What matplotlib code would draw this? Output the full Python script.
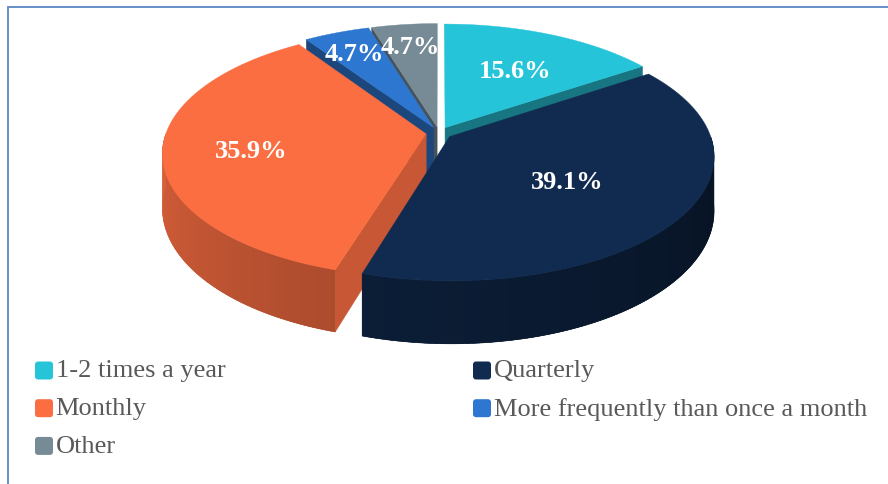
import numpy as np
import matplotlib.pyplot as plt
from matplotlib.patches import Polygon, FancyBboxPatch
from matplotlib.colors import to_rgb

# data
categories = ['1-2 times a year', 'Quarterly', 'Monthly',
              'More frequently than once a month', 'Other']
shares = [15.6, 39.1, 35.9, 4.7, 4.7]
pct_labels = ['15.6%', '39.1%', '35.9%', '4.7%', '4.7%']
colors = ['#26C4D9', '#112B50', '#FA6E42', '#2E77D0', '#778B96']

# geometry of the 3d pie (pixels)
cx, cy = 439, 134
Rx, Ry = 260, 121
H = 53          # thickness
c = 0.153       # perspective
explode = 0.05
label_r = [0.68, 0.58, 0.72, 0.85, 0.85]


def shade(col, f):
    r, g, b = to_rgb(col)
    return (r * f, g * f, b * f)


def proj(u, v, d=0.0):
    p = 1.0 / (1.0 - c * v)
    return cx + Rx * u * p, cy + (Ry * v + H * d) * p


fig = plt.figure(figsize=(8.88, 4.85), dpi=100)
ax = fig.add_axes([0, 0, 1, 1])
ax.set_xlim(0, 888)
ax.set_ylim(485, 0)
ax.axis('off')

total = sum(shares)
bounds = np.concatenate([[0], np.cumsum(shares) / total * 360])

side_faces = []
top_faces = []
label_pos = []
for i, col in enumerate(colors):
    t1, t2 = bounds[i], bounds[i + 1]
    tm = np.radians((t1 + t2) / 2)
    du, dv = explode * np.sin(tm), -explode * np.cos(tm)

    def gp(th, r=1.0):
        a = np.radians(th)
        return du + r * np.sin(a), dv - r * np.cos(a)

    # top face
    ths = np.linspace(t1, t2, max(int((t2 - t1) * 2), 4))
    pts = [proj(du, dv)] + [proj(*gp(t)) for t in ths]
    top_faces.append((pts, col))

    # outer wall (front half only): solid base plus overlapping gradient strips
    lo, hi = max(t1, 90), min(t2, 270)
    if hi > lo:
        edges = np.linspace(lo, hi, max(int(hi - lo), 2))
        top = [proj(*gp(t)) for t in edges]
        bot = [proj(*gp(t), 1) for t in edges[::-1]]
        fmid = 0.42 + ((lo + hi) / 2 - 90) / 180 * 0.45
        vmid = gp((lo + hi) / 2)[1]
        strips = []
        step = edges[1] - edges[0]
        for a in edges[:-1]:
            seg = np.linspace(a, min(a + step * 1.6, hi), 3)
            stop = [proj(*gp(t)) for t in seg]
            sbot = [proj(*gp(t), 1) for t in seg[::-1]]
            f = 0.42 + (a + step / 2 - 90) / 180 * 0.45
            strips.append((stop + sbot, shade(col, f)))
        side_faces.append((vmid, top + bot, shade(col, fmid), strips))

    # radial cut faces that face the viewer
    for th, visible in ((t1, np.sin(np.radians(t1)) < -1e-6),
                        (t2, np.sin(np.radians(t2)) > 1e-6)):
        if visible:
            ur, vr = gp(th)
            quad = [proj(du, dv), proj(ur, vr), proj(ur, vr, 1), proj(du, dv, 1)]
            f = 0.8 if i == 2 else 0.6
            side_faces.append(((dv + vr) / 2, quad, shade(col, f), []))

    label_pos.append(proj(*gp((t1 + t2) / 2, label_r[i] - explode)))

for depth, poly, col, strips in sorted(side_faces, key=lambda s: s[0]):
    ax.add_patch(Polygon(poly, closed=True, fc=col, ec=col, lw=0.4))
    for quad, scol in strips:
        ax.add_patch(Polygon(quad, closed=True, fc=scol, ec='none', lw=0))
for pts, col in top_faces:
    ax.add_patch(Polygon(pts, closed=True, fc=col, ec=col, lw=0.3))

for (x, y), txt in zip(label_pos, pct_labels):
    ax.text(x, y + 4, txt, ha='center', va='center', color='white',
            fontsize=19, fontweight='bold', family='Liberation Serif')

# legend, two columns filled row by row
for i, (name, col) in enumerate(zip(categories, colors)):
    lx = 35 + (i % 2) * 438
    ly = 371.5 + (i // 2) * 37.7
    ax.add_patch(FancyBboxPatch((lx, ly - 9), 18, 18,
                                boxstyle='round,pad=0,rounding_size=3',
                                fc=col, ec='none'))
    ax.text(lx + 20.5, ly, name, ha='left', va='center', color='#595959',
            fontsize=19, family='Liberation Serif')

# chart frame
ax.plot([7.5, 7.5, 890], [490, 7.5, 7.5], color='#5B86C5', lw=1.3,
        solid_joinstyle='miter')

fig.savefig('out.png', dpi=100)
